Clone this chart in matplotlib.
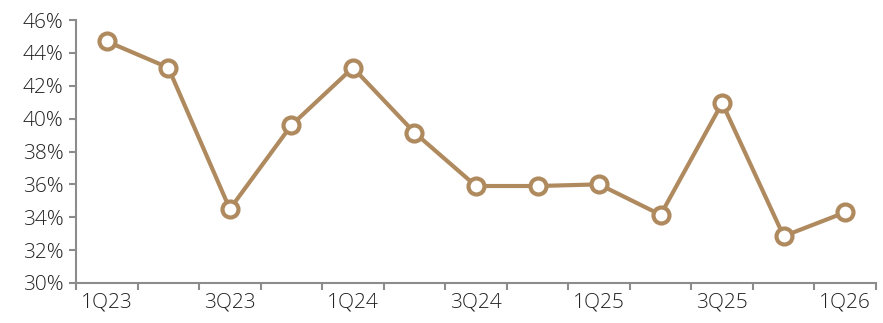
import matplotlib
matplotlib.use('Agg')
import matplotlib.pyplot as plt
from matplotlib.ticker import FixedLocator, FuncFormatter

quarters = ['1Q23', '2Q23', '3Q23', '4Q23', '1Q24', '2Q24', '3Q24',
            '4Q24', '1Q25', '2Q25', '3Q25', '4Q25', '1Q26']
values = [44.7, 43.1, 34.5, 39.6, 43.1, 39.15, 35.9,
          35.9, 36.0, 34.15, 40.95, 32.85, 34.3]

lineColor = '#B08A5F'
axisColor = '#8C8C8C'
textColor = '#222222'

plt.rcParams['font.family'] = ['Open Sans', 'DejaVu Sans']
plt.rcParams['font.weight'] = 'light'

fig = plt.figure(figsize=(8.83, 3.23), dpi=100)
ax = fig.add_axes([76/883, 1-283/323, 800/883, 263/323])

x = range(len(quarters))
ax.plot(x, values, color=lineColor, linewidth=3, marker='o', markersize=11.5,
        markerfacecolor='white', markeredgecolor=lineColor, markeredgewidth=3,
        zorder=3, clip_on=False)

ax.set_xlim(-0.5, len(quarters) - 0.5)
ax.set_ylim(30, 46)
ax.set_yticks(range(30, 47, 2))
ax.yaxis.set_major_formatter(FuncFormatter(lambda v, p: '%d%%' % v))

# tick marks on category boundaries, labels on every other quarter
ax.xaxis.set_major_locator(FixedLocator([i - 0.5 for i in range(len(quarters) + 1)]))
ax.set_xticklabels([])
ax.set_xticks(list(range(0, len(quarters), 2)), minor=True)
ax.set_xticklabels(quarters[::2], minor=True)
ax.tick_params(axis='x', which='minor', length=0, pad=7)

for side in ['top', 'right']:
    ax.spines[side].set_visible(False)
for side in ['left', 'bottom']:
    ax.spines[side].set_color(axisColor)
    ax.spines[side].set_linewidth(1.5)

ax.tick_params(axis='both', which='major', color=axisColor, width=1.5, length=5,
               labelsize=15, labelcolor=textColor)
ax.tick_params(axis='x', which='minor', labelsize=15, labelcolor=textColor)
ax.tick_params(axis='y', pad=4)

fig.savefig('out.png', dpi=100)
